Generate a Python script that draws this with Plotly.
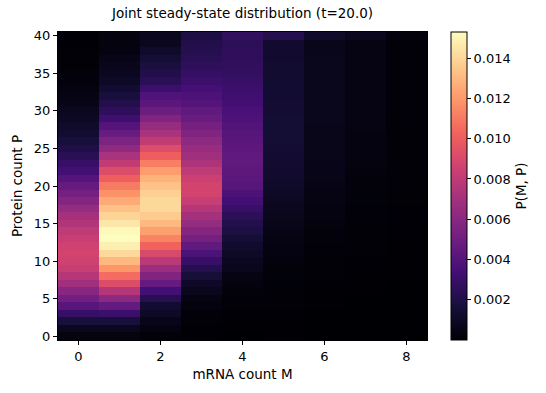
import plotly.graph_objects as go

# mRNA counts (columns) and protein counts (rows)
m_values = [0, 1, 2, 3, 4, 5, 6, 7, 8]
p_values = list(range(41))

# P(M, P) read column by column, P = 0 .. 40
col_m0 = [0.00031, 0.00077, 0.00168, 0.00291, 0.00413, 0.00505, 0.00597, 0.00689, 0.00765, 0.00826,
          0.00857, 0.00872, 0.00857, 0.00826, 0.00796, 0.00750, 0.00704, 0.00643, 0.00581, 0.00520,
          0.00459, 0.00398, 0.00337, 0.00291, 0.00245, 0.00199, 0.00168, 0.00138, 0.00115, 0.00092,
          0.00077, 0.00061, 0.00046, 0.00034, 0.00024, 0.00018, 0.00012, 0.00009, 0.00006, 0.00005,
          0.00005]
col_m1 = [0.00031, 0.00077, 0.00168, 0.00306, 0.00459, 0.00612, 0.00765, 0.00918, 0.01056, 0.01193,
          0.01301, 0.01408, 0.01484, 0.01530, 0.01515, 0.01454, 0.01392, 0.01331, 0.01255, 0.01178,
          0.01102, 0.01010, 0.00918, 0.00811, 0.00719, 0.00627, 0.00551, 0.00474, 0.00398, 0.00321,
          0.00260, 0.00214, 0.00168, 0.00138, 0.00107, 0.00084, 0.00069, 0.00054, 0.00038, 0.00031,
          0.00031]
col_m2 = [0.00015, 0.00038, 0.00061, 0.00107, 0.00138, 0.00230, 0.00337, 0.00459, 0.00566, 0.00673,
          0.00780, 0.00903, 0.01025, 0.01132, 0.01224, 0.01301, 0.01362, 0.01408, 0.01408, 0.01377,
          0.01331, 0.01285, 0.01209, 0.01117, 0.01010, 0.00918, 0.00811, 0.00719, 0.00643, 0.00566,
          0.00490, 0.00428, 0.00383, 0.00306, 0.00245, 0.00207, 0.00176, 0.00145, 0.00115, 0.00084,
          0.00077]
col_m3 = [0.00003, 0.00005, 0.00009, 0.00015, 0.00026, 0.00043, 0.00069, 0.00107, 0.00161, 0.00222,
          0.00291, 0.00367, 0.00444, 0.00520, 0.00581, 0.00643, 0.00704, 0.00765, 0.00826, 0.00872,
          0.00872, 0.00842, 0.00796, 0.00734, 0.00689, 0.00658, 0.00612, 0.00566, 0.00520, 0.00474,
          0.00444, 0.00398, 0.00375, 0.00344, 0.00314, 0.00283, 0.00260, 0.00237, 0.00222, 0.00207,
          0.00191]
col_m4 = [0.00000, 0.00002, 0.00003, 0.00005, 0.00008, 0.00012, 0.00018, 0.00031, 0.00046, 0.00069,
          0.00084, 0.00107, 0.00130, 0.00153, 0.00184, 0.00214, 0.00252, 0.00291, 0.00337, 0.00375,
          0.00413, 0.00428, 0.00436, 0.00444, 0.00444, 0.00436, 0.00421, 0.00405, 0.00390, 0.00375,
          0.00360, 0.00337, 0.00321, 0.00306, 0.00291, 0.00275, 0.00268, 0.00260, 0.00260, 0.00252,
          0.00275]
col_m5 = [0.00002, 0.00002, 0.00003, 0.00005, 0.00006, 0.00008, 0.00011, 0.00014, 0.00017, 0.00021,
          0.00026, 0.00032, 0.00038, 0.00046, 0.00054, 0.00063, 0.00072, 0.00081, 0.00090, 0.00099,
          0.00109, 0.00118, 0.00125, 0.00132, 0.00136, 0.00139, 0.00141, 0.00142, 0.00142, 0.00142,
          0.00141, 0.00139, 0.00138, 0.00136, 0.00135, 0.00133, 0.00132, 0.00130, 0.00129, 0.00127,
          0.00220]
col_m6 = [0.000003, 0.000005, 0.000008, 0.000012, 0.000015, 0.000023, 0.00003, 0.000046, 0.000061, 0.000077,
          0.000092, 0.00012, 0.00015, 0.00018, 0.00023, 0.00028, 0.00032, 0.00037, 0.00041, 0.00046,
          0.00050, 0.00057, 0.00061, 0.00062, 0.00063, 0.00064, 0.00065, 0.00066, 0.00067, 0.00068,
          0.00069, 0.00069, 0.00069, 0.00069, 0.00069, 0.00069, 0.00068, 0.00068, 0.00067, 0.00066,
          0.00115]
col_m7 = [0.000002, 0.000003, 0.000005, 0.000008, 0.00001, 0.00001, 0.00002, 0.00002, 0.00003, 0.00004,
          0.00005, 0.00006, 0.00008, 0.00009, 0.00011, 0.00012, 0.00014, 0.00015, 0.00017, 0.00018,
          0.00021, 0.00024, 0.00028, 0.00031, 0.00034, 0.00037, 0.00038, 0.00039, 0.00040, 0.00041,
          0.00043, 0.00043, 0.00043, 0.00043, 0.00043, 0.00043, 0.00043, 0.00043, 0.00043, 0.00043,
          0.00077]
col_m8 = [0.000002, 0.000003, 0.000004, 0.000005, 0.000007, 0.000009, 0.00001, 0.00001, 0.00002, 0.00002,
          0.00003, 0.00003, 0.00003, 0.00004, 0.00004, 0.00005, 0.00005, 0.00005, 0.00006, 0.00006,
          0.00008, 0.00008, 0.00009, 0.00009, 0.00010, 0.00010, 0.00011, 0.00011, 0.00012, 0.00012,
          0.00015, 0.00015, 0.00015, 0.00015, 0.00015, 0.00015, 0.00015, 0.00015, 0.00015, 0.00015,
          0.00028]

columns = [col_m0, col_m1, col_m2, col_m3, col_m4, col_m5, col_m6, col_m7, col_m8]
z = [[columns[m][p] for m in range(len(m_values))] for p in range(len(p_values))]

x_ticks = [0, 2, 4, 6, 8]
y_ticks = [0, 5, 10, 15, 20, 25, 30, 35, 40]
cbar_ticks = [0.002, 0.004, 0.006, 0.008, 0.010, 0.012, 0.014]

FONT = "DejaVu Sans"

fig = go.Figure(
    go.Heatmap(
        x=m_values,
        y=p_values,
        z=z,
        colorscale="Magma",
        colorbar=dict(
            title=dict(text="P(M, P)", side="right", font=dict(family=FONT, size=13.5, color="black")),
            tickvals=cbar_ticks,
            tickformat=".3f",
            ticks="outside",
            ticklen=4,
            tickcolor="black",
            tickfont=dict(family=FONT, size=13, color="black"),
            outlinewidth=1,
            outlinecolor="black",
            thickness=16,
            len=1,
            lenmode="fraction",
            y=0.5,
            yanchor="middle",
            x=1.066,
            xanchor="left",
            xpad=0,
            ypad=0,
        ),
    )
)

fig.update_layout(
    width=546,
    height=393,
    margin=dict(l=57.5, r=118.5, t=32, b=53),
    paper_bgcolor="white",
    plot_bgcolor="white",
    font=dict(family=FONT, size=13, color="black"),
    title=dict(
        text="Joint steady-state distribution (t=20.0)",
        x=0.5,
        xref="paper",
        xanchor="center",
        y=(393 - 13) / 393,
        yref="container",
        yanchor="middle",
        font=dict(family=FONT, size=13.5, color="black"),
    ),
)

fig.update_xaxes(
    range=[-0.5, 8.5],
    tickvals=x_ticks,
    ticks="outside",
    ticklen=4,
    tickcolor="black",
    showline=True,
    linecolor="black",
    linewidth=1,
    mirror=True,
    showgrid=False,
    zeroline=False,
    title=dict(text="mRNA count M", font=dict(family=FONT, size=13.5, color="black"), standoff=6),
    tickfont=dict(family=FONT, size=13, color="black"),
)
fig.update_yaxes(
    range=[-0.5, 40.5],
    tickvals=y_ticks,
    ticks="outside",
    ticklen=4,
    tickcolor="black",
    showline=True,
    linecolor="black",
    linewidth=1,
    mirror=True,
    showgrid=False,
    zeroline=False,
    title=dict(text="Protein count P", font=dict(family=FONT, size=13.5, color="black"), standoff=8),
    tickfont=dict(family=FONT, size=13, color="black"),
)

fig.write_html(
    "out.html",
    config={"displayModeBar": False},
    post_script="document.body.style.margin='0';document.body.style.overflow='hidden';",
)
